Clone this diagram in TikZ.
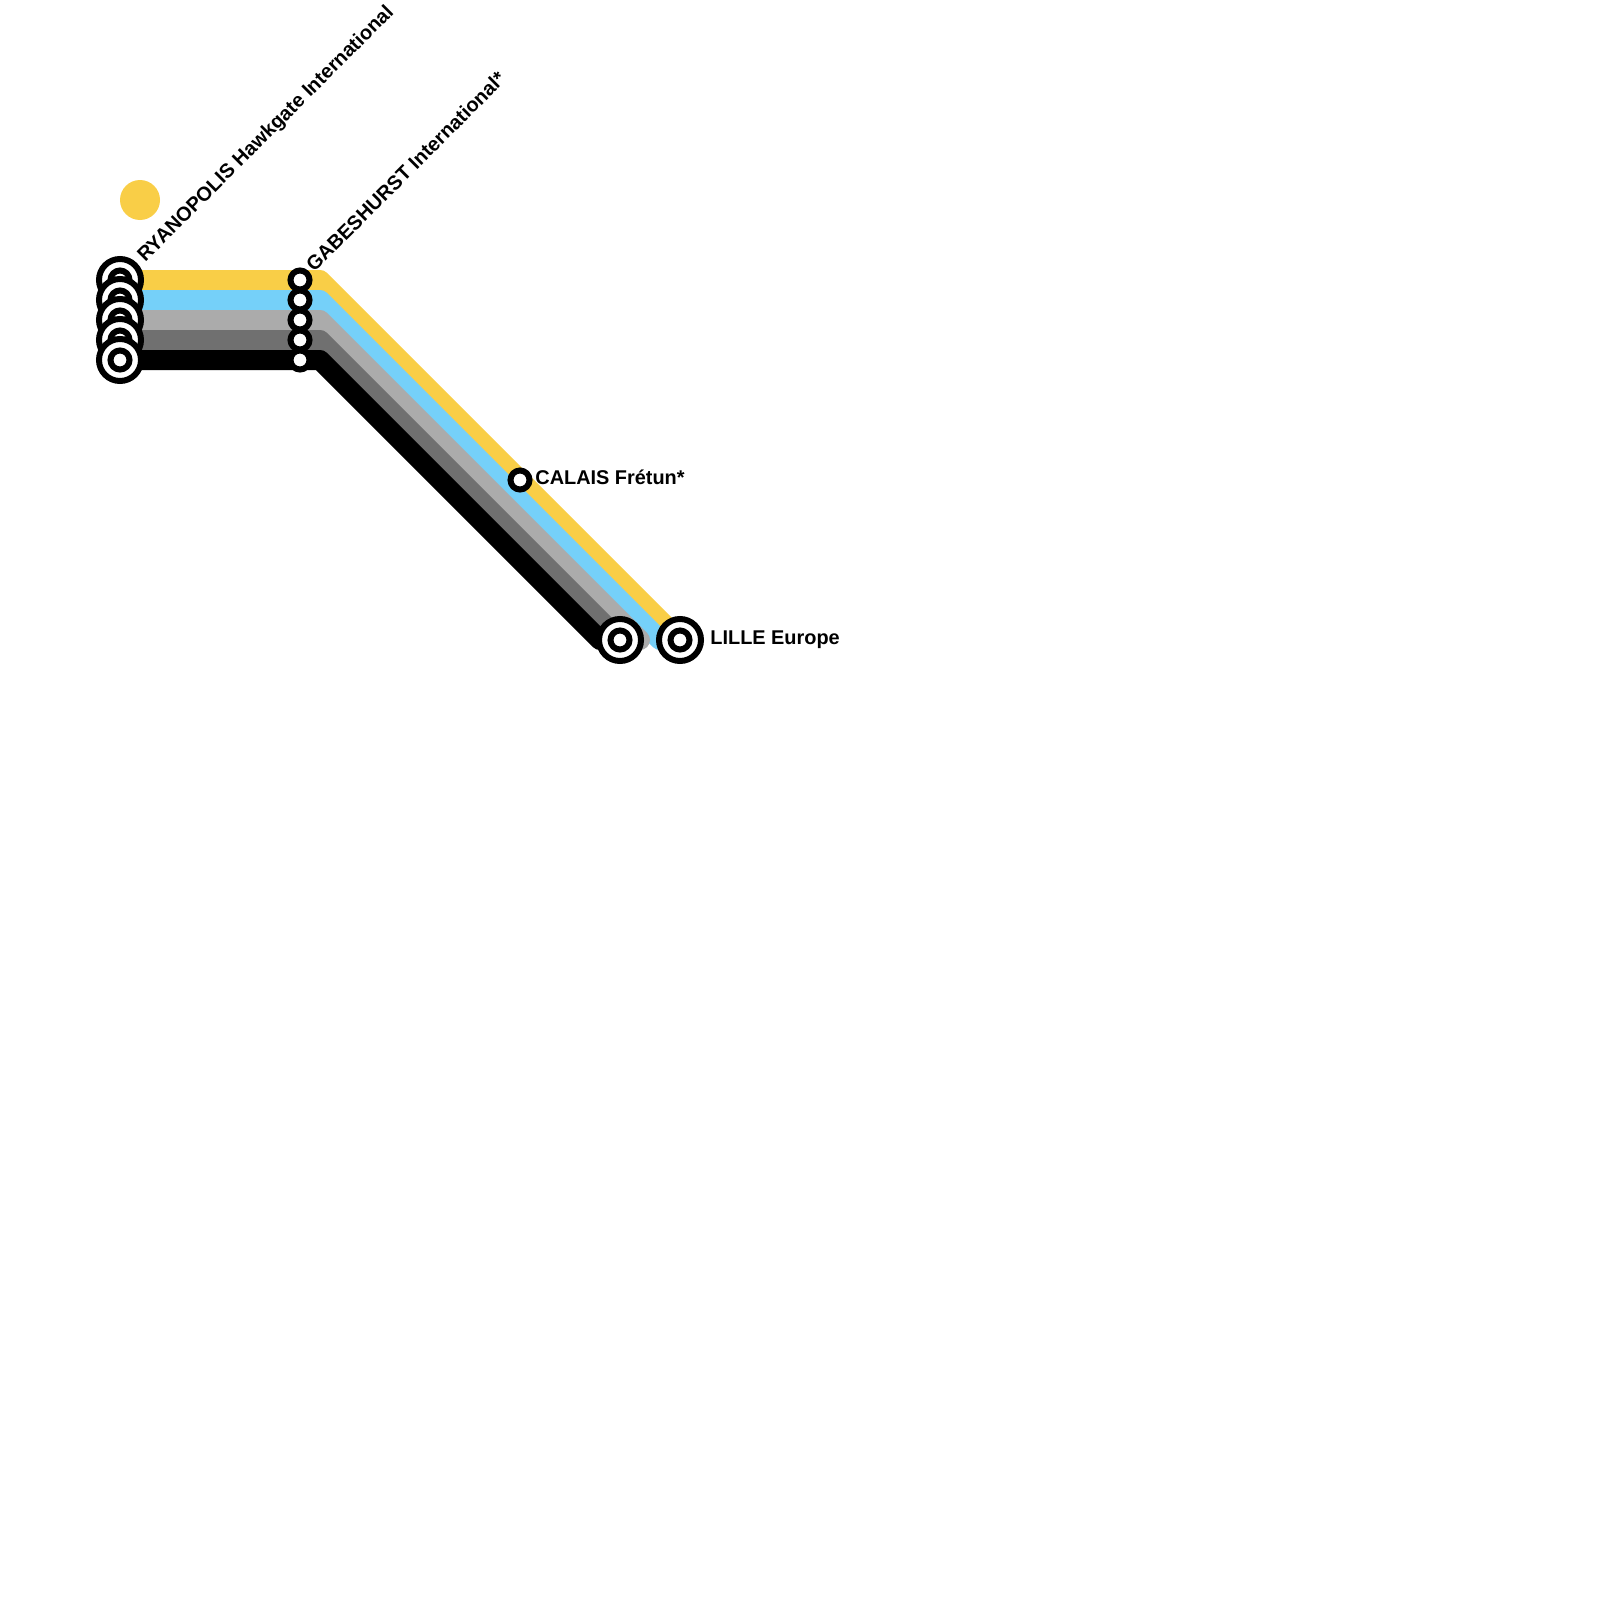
\documentclass[tikz,border=0pt]{standalone}
\usepackage{fontspec}
\setmainfont{Liberation Sans}
\definecolor{lineyellow}{HTML}{F9CE47}
\definecolor{lineblue}{HTML}{75D0F9}
\definecolor{linegrey}{HTML}{ABABAB}
\definecolor{linedark}{HTML}{707070}
\tikzset{
  route/.style={line width=10pt,line cap=round,line join=round},
  ringouter/.style={circle,draw=black,fill=white,line width=3pt,minimum size=21pt,inner sep=0pt,outer sep=0pt},
  ringinner/.style={circle,draw=black,fill=white,line width=3pt,minimum size=9.5pt,inner sep=0pt,outer sep=0pt},
  smallstop/.style={circle,draw=black,fill=white,line width=3pt,minimum size=9.5pt,inner sep=0pt,outer sep=0pt},
  lbl/.style={font=\fontsize{9.95pt}{12pt}\selectfont\bfseries,inner sep=0pt,anchor=base west}
}
\begin{document}
\begin{tikzpicture}[x=0.5pt,y=-0.5pt]
\useasboundingbox (0,0) rectangle (1600,1600);
\fill[lineyellow] (140,200) circle (10pt);
% route ends
\coordinate (ya) at (120,280); \coordinate (yb) at (320,280); \coordinate (yc) at (680,640);
\coordinate (ba) at (120,300); \coordinate (bb) at (320,300); \coordinate (bc) at (660,640);
\coordinate (ga) at (120,320); \coordinate (gb) at (320,320); \coordinate (gc) at (640,640);
\coordinate (da) at (120,340); \coordinate (db) at (320,340); \coordinate (dc) at (620,640);
\coordinate (ka) at (120,360); \coordinate (kb) at (320,360); \coordinate (kc) at (600,640);
\draw[route,lineyellow] (ya) -- (yb) -- (yc);
\draw[route,lineblue] (ba) -- (bb) -- (bc);
\draw[route,linegrey] (ga) -- (gb) -- (gc);
\draw[route,linedark] (da) -- (db) -- (dc);
\draw[route,black] (ka) -- (kb) -- (kc);
% stations
\foreach \n/\y in {a/280,b/300,c/320,d/340,e/360}{
  \node[ringouter] (big\n) at (120,\y) {};
  \node[ringinner] (in\n) at (120,\y) {};
  \node[smallstop] (gab\n) at (300,\y) {};
}
\node[smallstop] (calais) at (520,480) {};
\node[ringouter] (lilleA) at (620,640) {};
\node[ringinner] (lilleAi) at (620,640) {};
\node[ringouter] (lilleB) at (680,640) {};
\node[ringinner] (lilleBi) at (680,640) {};
% labels
\node[lbl,rotate=45] (l1) at (145,263) {RYANOPOLIS Hawkgate International};
\node[lbl,rotate=45] (l2) at (314,273) {GABESHURST International*};
\node[lbl] (l3) at (535,484.5) {CALAIS Frétun*};
\node[lbl] (l4) at (710,644.5) {LILLE Europe};
\end{tikzpicture}
\end{document}
